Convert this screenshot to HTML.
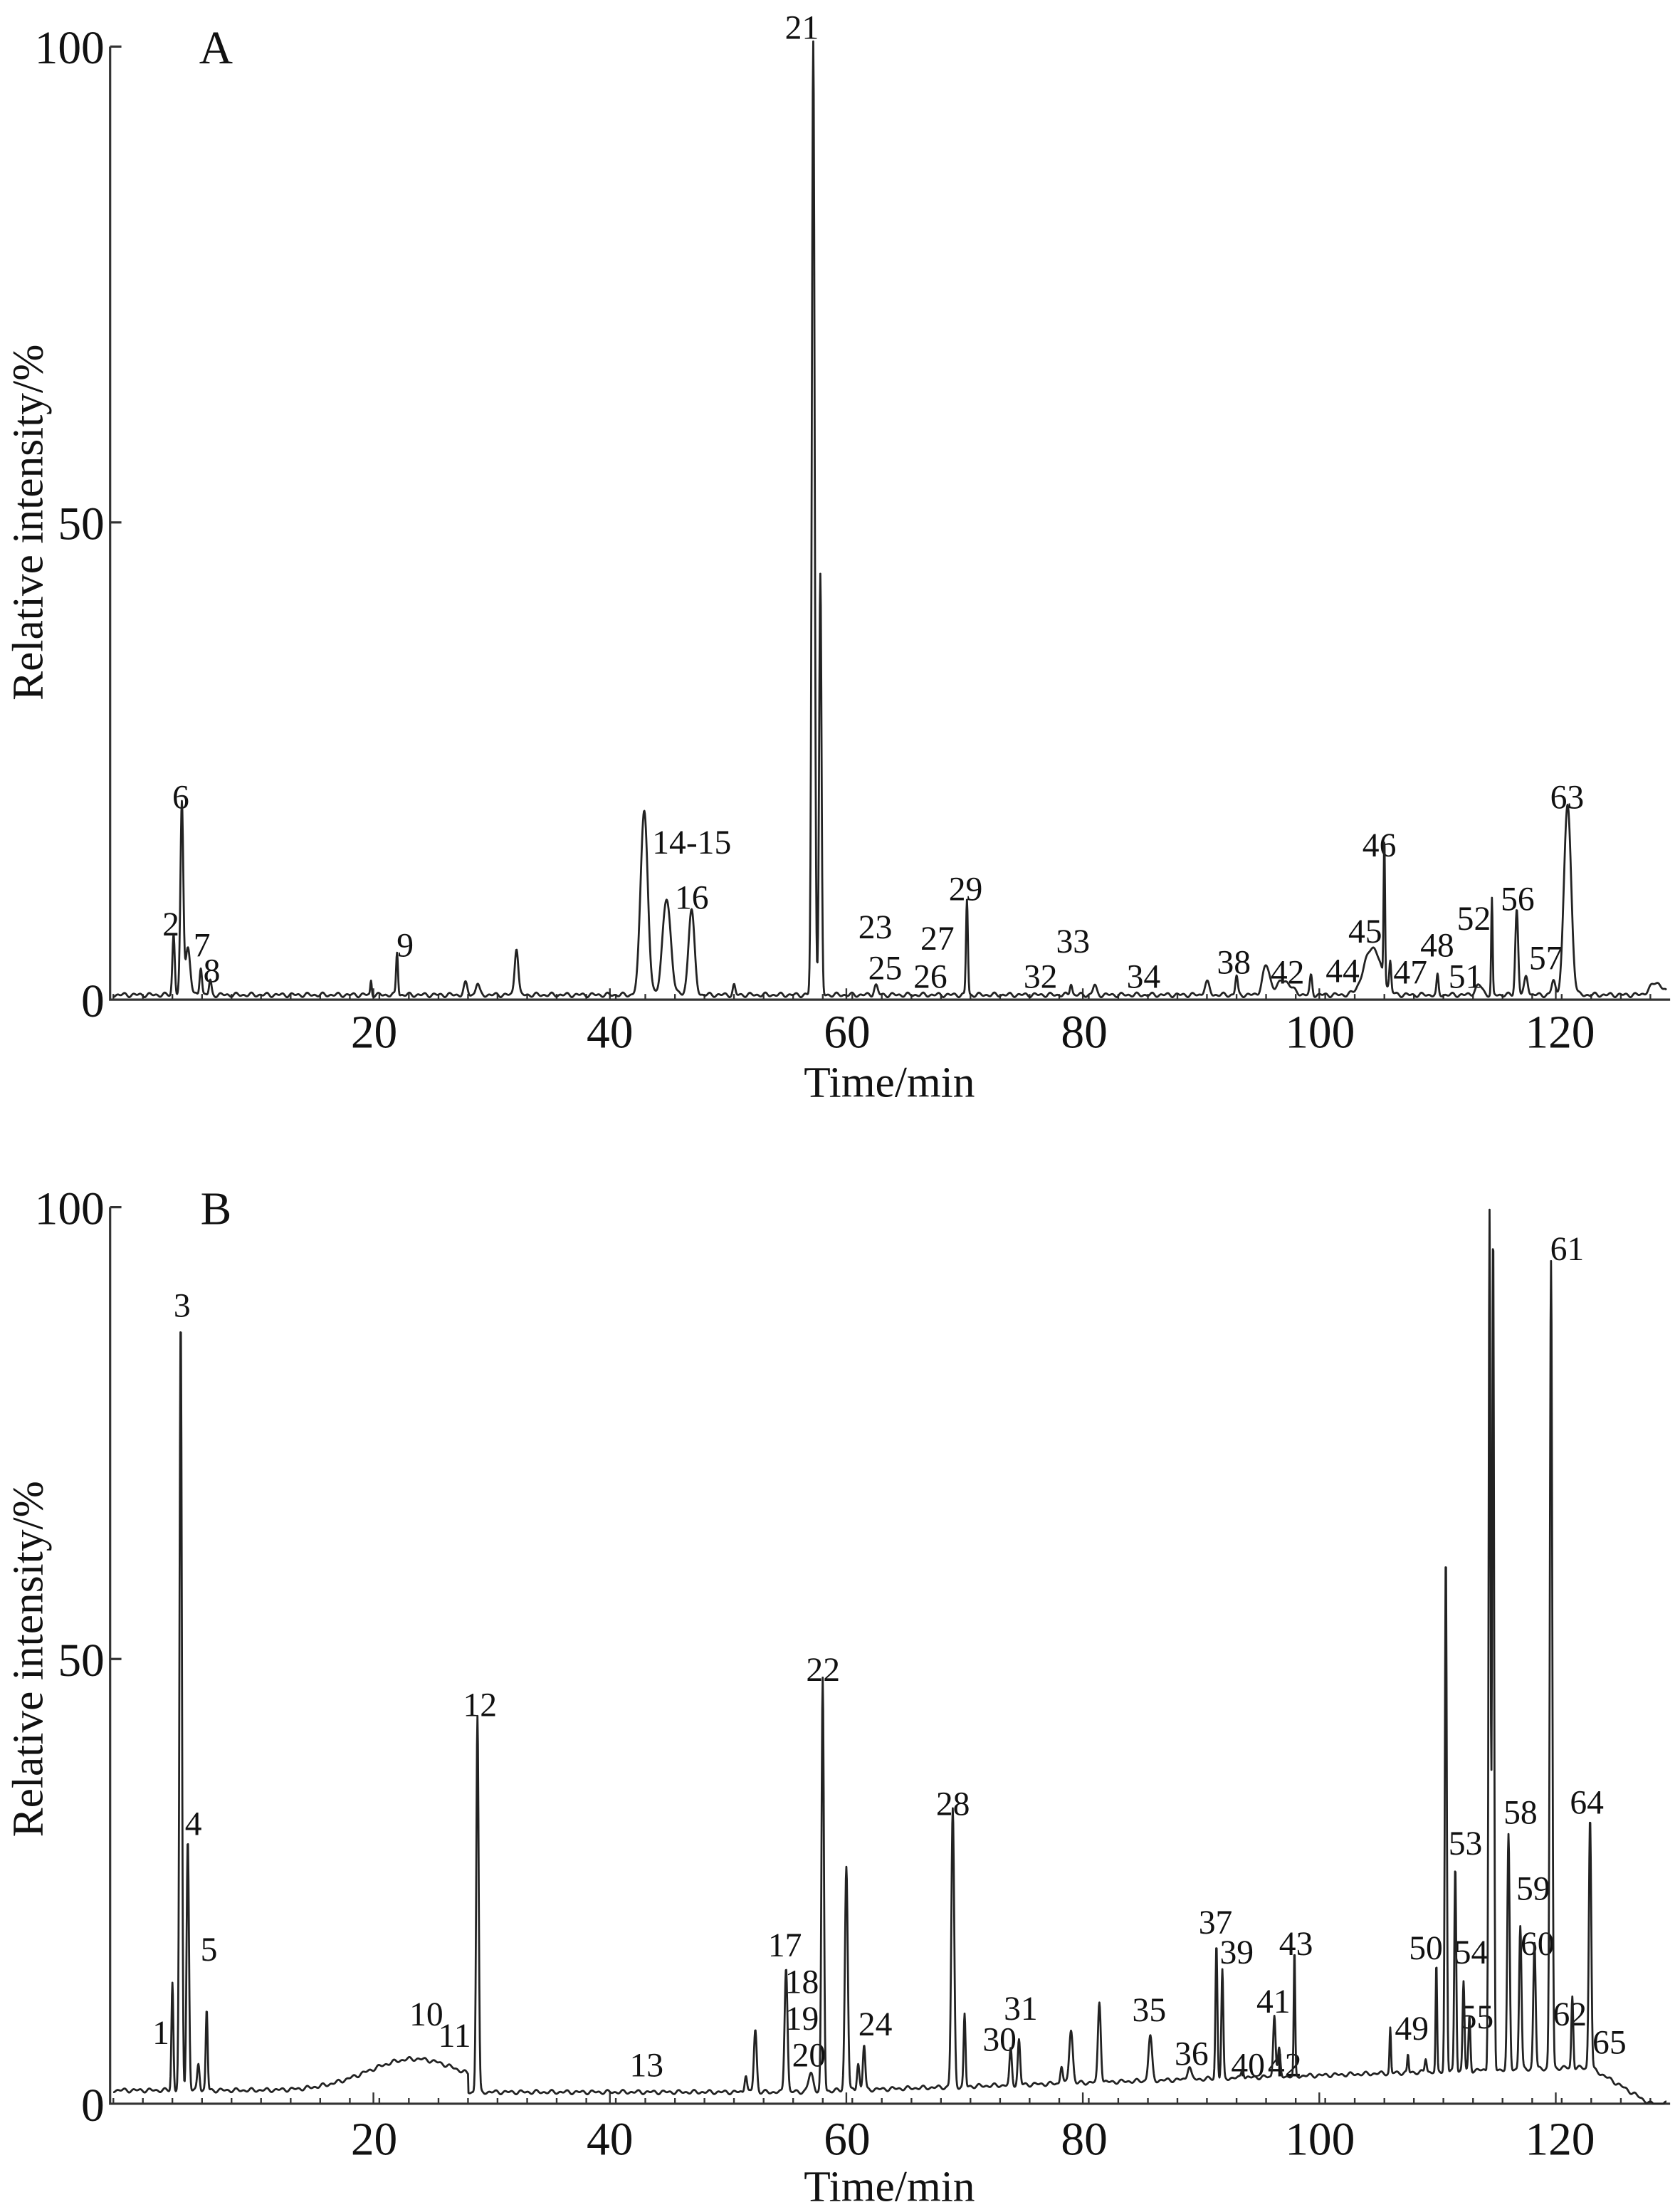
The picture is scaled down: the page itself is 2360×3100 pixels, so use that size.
<!DOCTYPE html>
<html><head><meta charset="utf-8"><style>
html,body{margin:0;padding:0;background:#fff;}
svg{display:block;}
text{font-family:"Liberation Serif",serif;fill:#111;}
.pl{font-size:24px;}
.tk{font-size:33px;}
.tt{font-size:31px;}
</style></head><body>
<svg id="s" width="2360" height="3100" viewBox="0 0 2360 3100" xmlns="http://www.w3.org/2000/svg">
<g id="g" transform="scale(1.9832)">
<path d="M78 33 H86 M78 33 V708 H1183" stroke="#333" stroke-width="1.6" fill="none"/>
<path d="M78 370 H86" stroke="#333" stroke-width="1.6"/>
<text class="tk" x="74" y="45" text-anchor="end">100</text>
<text class="tk" x="74" y="382" text-anchor="end">50</text>
<text class="tk" x="74" y="720" text-anchor="end">0</text>
<text class="tk" x="153" y="45" text-anchor="middle">A</text>
<text class="tk" x="265" y="742" text-anchor="middle">20</text>
<text class="tk" x="432" y="742" text-anchor="middle">40</text>
<text class="tk" x="600" y="742" text-anchor="middle">60</text>
<text class="tk" x="768" y="742" text-anchor="middle">80</text>
<text class="tk" x="935" y="742" text-anchor="middle">100</text>
<text class="tk" x="1105" y="742" text-anchor="middle">120</text>
<text class="tt" x="630" y="755" text-anchor="middle" dominant-baseline="hanging">Time/min</text>
<text class="tt" transform="translate(30 370) rotate(-90)" text-anchor="middle">Relative intensity/%</text>
<path d="M78 855 H86 M78 855 V1490 H1183" stroke="#333" stroke-width="1.6" fill="none"/>
<path d="M78 1175 H86" stroke="#333" stroke-width="1.6"/>
<text class="tk" x="74" y="867" text-anchor="end">100</text>
<text class="tk" x="74" y="1187" text-anchor="end">50</text>
<text class="tk" x="74" y="1502" text-anchor="end">0</text>
<text class="tk" x="153" y="867" text-anchor="middle">B</text>
<text class="tk" x="265" y="1526" text-anchor="middle">20</text>
<text class="tk" x="432" y="1526" text-anchor="middle">40</text>
<text class="tk" x="600" y="1526" text-anchor="middle">60</text>
<text class="tk" x="768" y="1526" text-anchor="middle">80</text>
<text class="tk" x="935" y="1526" text-anchor="middle">100</text>
<text class="tk" x="1105" y="1526" text-anchor="middle">120</text>
<text class="tt" x="630" y="1537" text-anchor="middle" dominant-baseline="hanging">Time/min</text>
<text class="tt" transform="translate(30 1175) rotate(-90)" text-anchor="middle">Relative intensity/%</text>

<g class="pl" text-anchor="middle" dominant-baseline="central">
<text x="568" y="20">21</text><text x="128" y="565">6</text><text x="121" y="655">2</text>
<text x="143" y="670">7</text><text x="150" y="688">8</text><text x="287" y="670">9</text>
<text x="490" y="597">14-15</text><text x="490" y="636">16</text><text x="620" y="657">23</text>
<text x="627" y="686">25</text><text x="659" y="692">26</text><text x="664" y="665">27</text>
<text x="684" y="630">29</text><text x="737" y="692">32</text><text x="760" y="667">33</text>
<text x="810" y="692">34</text><text x="874" y="682">38</text><text x="912" y="689">42</text>
<text x="951" y="688">44</text><text x="967" y="660">45</text><text x="977" y="599">46</text>
<text x="999" y="689">47</text><text x="1018" y="670">48</text><text x="1038" y="692">51</text>
<text x="1044" y="651">52</text><text x="1075" y="637">56</text><text x="1095" y="679">57</text>
<text x="1110" y="565">63</text>

<text x="129" y="925">3</text><text x="137" y="1292">4</text><text x="148" y="1381">5</text>
<text x="114" y="1440">1</text><text x="302" y="1427">10</text><text x="322" y="1442">11</text>
<text x="340" y="1208">12</text><text x="458" y="1463">13</text><text x="556" y="1378">17</text>
<text x="568" y="1404">18</text><text x="568" y="1430">19</text><text x="573" y="1456">20</text>
<text x="583" y="1183">22</text><text x="620" y="1434">24</text><text x="675" y="1278">28</text>
<text x="708" y="1445">30</text><text x="723" y="1423">31</text><text x="814" y="1424">35</text>
<text x="844" y="1455">36</text><text x="861" y="1362">37</text><text x="876" y="1383">39</text>
<text x="884" y="1463">40</text><text x="902" y="1418">41</text><text x="910" y="1463">42</text>
<text x="918" y="1377">43</text><text x="1000" y="1437">49</text><text x="1010" y="1380">50</text>
<text x="1038" y="1306">53</text><text x="1042" y="1383">54</text><text x="1046" y="1429">55</text>
<text x="1077" y="1284">58</text><text x="1086" y="1338">59</text><text x="1089" y="1377">60</text>
<text x="1110" y="885">61</text><text x="1112" y="1427">62</text><text x="1124" y="1277">64</text>
<text x="1140" y="1447">65</text>
</g>
</g>
</svg>
<script>
(function(){
var g=document.getElementById('g'),NS='http://www.w3.org/2000/svg';
function X(t){return 97+t*8.375;}
function add(d,w,c){var p=document.createElementNS(NS,'path');p.setAttribute('d',d);p.setAttribute('stroke',c||'#222');p.setAttribute('stroke-width',w);p.setAttribute('fill','none');p.setAttribute('stroke-linejoin','round');g.appendChild(p);}
function ticks(y0){var d='';for(var t=-2;t<=129;t+=2.5){d+='M'+X(t).toFixed(1)+' '+y0+'v-4';}
for(var k=20;k<=120;k+=20){d+='M'+X(k)+' '+y0+'v-8';}add(d,1.2,'#333');}
ticks(708);ticks(1490);
var A=[[3.1,6.4,.1],[3.8,20,.12],[4.3,5,.2],[5.4,3,.1],[6.2,1.5,.1],[22,4.5,.08],[19.8,1.5,.06],[27.8,1.2,.15],[28.8,1.2,.15],[32.1,5,.15],[42.9,19.5,.3],[44.8,10,.35],[46.9,9,.25],[50.5,1,.1],[57.2,100,.12],[57.8,44,.1],[62.5,1,.15],[70.2,10,.08],[79,1.2,.1],[81,1,.15],[90.5,1.3,.2],[93,2,.1],[95.5,3,.3],[97,1.5,.6],[99.3,2,.1],[104.5,5,.7],[105.5,15,.06],[106,3,.08],[110,2,.08],[113.5,1,.3],[114.6,10,.06],[116.7,9,.12],[117.5,2,.15],[119.8,1.5,.15],[121,20,.3],[128.5,1.3,.5]];
var B=[[3.0,12,.08],[3.7,86,.1],[4.3,28,.1],[5.2,3,.1],[5.9,9,.08],[28.8,42,.1],[51.5,2,.1],[52.3,7,.12],[54.9,14,.12],[57,2,.2],[58,46,.1],[60,25,.12],[61,3,.1],[61.5,5,.1],[69,31,.12],[70,8,.08],[73.9,4,.1],[74.6,5,.1],[78.2,2,.1],[79,6,.15],[81.4,9,.12],[85.7,5,.15],[89,1.5,.15],[91.3,15,.08],[91.8,12,.08],[93.5,1,.1],[96.2,7,.1],[96.6,3,.1],[97.9,14,.06],[106,5,.06],[107.5,2,.06],[109,1.5,.08],[109.9,12,.06],[110.7,58,.08],[111.5,23,.08],[112.2,10,.08],[112.7,6,.08],[114.4,96,.08],[114.7,94,.08],[116,26,.1],[117,16,.1],[118.2,14,.1],[119.6,90,.1],[121.4,8,.08],[122.9,28,.1]];
function baseA(t){return 0.5;}
function baseB(t){var b;
if(t<=28){b=1.5+3.5*Math.exp(-Math.pow((t-23.5)/4,2)/2);}
else{b=1.3+(t>55?Math.min(2.7,(t-55)*2.7/65):0);}
if(t>123)b*=Math.max(0,1-(t-123)/5);
return b;}
function draw(P,base,y0,sc){var d='';for(var t=-2.0;t<=129.4;t+=0.04){var v=base(t);for(var i=0;i<P.length;i++){var q=P[i],z=(t-q[0])/q[2];if(z>-6&&z<6)v+=q[1]*Math.exp(-z*z/2);}
v+=0.25*Math.sin(t*7.3)*Math.sin(t*2.1);
var y=y0-v*sc;if(y>y0)y=y0;d+=(d?'L':'M')+X(t).toFixed(2)+' '+y.toFixed(2);}add(d,1.4);}
draw(A,baseA,708,6.75);draw(B,baseB,1490,6.35);
})();
</script>
</body></html>
